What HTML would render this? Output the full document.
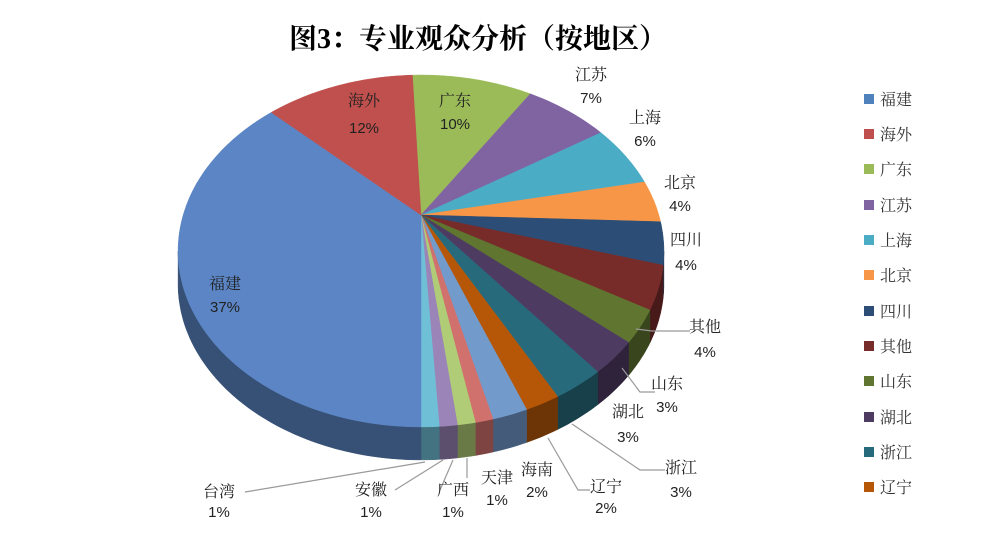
<!DOCTYPE html>
<html><head><meta charset="utf-8"><style>
body{margin:0;background:#fff;width:1000px;height:552px;overflow:hidden}
svg{display:block}
.c{font-family:"Liberation Serif","Noto Serif CJK SC",serif;font-size:16px;fill:#222}
.n{font-family:"Liberation Sans",sans-serif;font-size:15px;fill:#222}
.t{font-family:"Liberation Serif","Noto Serif CJK SC",serif;font-size:28px;font-weight:bold;fill:#000}
.lg{font-family:"Liberation Serif","Noto Serif CJK SC",serif;font-size:16px;fill:#333}
</style></head><body>
<svg id="s" width="1000" height="552" viewBox="0 0 1000 552">
<text class="t" x="478" y="48" text-anchor="middle">图3：专业观众分析（按地区）</text>
<g id="pie"></g>
<g fill="none" stroke="#999" stroke-width="1.2">
<polyline points="636,329 652,331 690,331"/>
<polyline points="622,368 640,392 655,392"/>
<polyline points="572,424 640,470 665,470"/>
<polyline points="548,438 578,490 590,490"/>
<polyline points="467,458 467,478"/>
<polyline points="453,460 440,490"/>
<polyline points="443,460 395,490"/>
<polyline points="425,462 245,492"/>
</g>
<g text-anchor="middle">
<text class="c" x="364" y="106">海外</text><text class="n" x="364" y="133">12%</text>
<text class="c" x="455" y="106">广东</text><text class="n" x="455" y="129">10%</text>
<text class="c" x="225" y="289">福建</text><text class="n" x="225" y="312">37%</text>
<text class="c" x="591" y="80">江苏</text><text class="n" x="591" y="103">7%</text>
<text class="c" x="645" y="123">上海</text><text class="n" x="645" y="146">6%</text>
<text class="c" x="680" y="188">北京</text><text class="n" x="680" y="211">4%</text>
<text class="c" x="686" y="245">四川</text><text class="n" x="686" y="270">4%</text>
<text class="c" x="705" y="332">其他</text><text class="n" x="705" y="357">4%</text>
<text class="c" x="667" y="389">山东</text><text class="n" x="667" y="412">3%</text>
<text class="c" x="628" y="417">湖北</text><text class="n" x="628" y="442">3%</text>
<text class="c" x="681" y="473">浙江</text><text class="n" x="681" y="497">3%</text>
<text class="c" x="606" y="492">辽宁</text><text class="n" x="606" y="513">2%</text>
<text class="c" x="537" y="475">海南</text><text class="n" x="537" y="497">2%</text>
<text class="c" x="497" y="483">天津</text><text class="n" x="497" y="505">1%</text>
<text class="c" x="453" y="495">广西</text><text class="n" x="453" y="517">1%</text>
<text class="c" x="371" y="495">安徽</text><text class="n" x="371" y="517">1%</text>
<text class="c" x="219" y="497">台湾</text><text class="n" x="219" y="517">1%</text>
</g>
<g>
<rect x="864" y="94" width="10" height="10" fill="#4F81BD"/><text class="lg" x="880" y="105">福建</text>
<rect x="864" y="129" width="10" height="10" fill="#C0504D"/><text class="lg" x="880" y="140">海外</text>
<rect x="864" y="164" width="10" height="10" fill="#9BBB59"/><text class="lg" x="880" y="175">广东</text>
<rect x="864" y="200" width="10" height="10" fill="#8064A2"/><text class="lg" x="880" y="211">江苏</text>
<rect x="864" y="235" width="10" height="10" fill="#4BACC6"/><text class="lg" x="880" y="246">上海</text>
<rect x="864" y="270" width="10" height="10" fill="#F79646"/><text class="lg" x="880" y="281">北京</text>
<rect x="864" y="306" width="10" height="10" fill="#2C4D75"/><text class="lg" x="880" y="317">四川</text>
<rect x="864" y="341" width="10" height="10" fill="#772C2A"/><text class="lg" x="880" y="352">其他</text>
<rect x="864" y="376" width="10" height="10" fill="#5F7530"/><text class="lg" x="880" y="387">山东</text>
<rect x="864" y="412" width="10" height="10" fill="#4D3B62"/><text class="lg" x="880" y="423">湖北</text>
<rect x="864" y="447" width="10" height="10" fill="#276A7C"/><text class="lg" x="880" y="458">浙江</text>
<rect x="864" y="482" width="10" height="10" fill="#B65708"/><text class="lg" x="880" y="493">辽宁</text>
</g>
</svg>
<script>
(function(){
var cx=421,cy=215,R=237.8,Q=168.6,k=0.2045,D=33;
function P(d){var a=d*Math.PI/180,u=Math.sin(a),v=Math.cos(a),w=1+k*v;return [cx+R*u/w,cy-Q*v/w];}
var sl=[["#9BBB59",10],["#8064A2",7],["#4BACC6",6],["#F79646",4],["#2C4D75",4],["#772C2A",4],["#5F7530",3],["#4D3B62",3],["#276A7C",3],["#B65708",2],["#729ACA",2],["#D0716E",1],["#B0CC76",1],["#9A84B8",1],["#6FC0D6",1],["#5B85C4",37],["#C0504D",12]];
function dark(h,f){var n=parseInt(h.slice(1),16),r=(n>>16)&255,g=(n>>8)&255,b=n&255;return "rgb("+Math.round(r*f)+","+Math.round(g*f)+","+Math.round(b*f)+")";}
var a=-2.5,segs=[];
for(var i=0;i<sl.length;i++){var f=i<15?182.5/52:177.5/49;var w=sl[i][1]*f;segs.push([a,a+w,sl[i][0]]);a+=w;}
var g=document.getElementById("pie"),side="",top="";
function arc(s,e,dy){var p="",n=Math.max(2,Math.ceil((e-s)/1));for(var j=0;j<=n;j++){var q=P(s+(e-s)*j/n);p+=(q[0]).toFixed(1)+","+(q[1]+dy).toFixed(1)+" ";}return p;}
var lo=101.8,hi=258.2;
segs.forEach(function(sg){var s=Math.max(sg[0],lo),e=Math.min(sg[1],hi);
 if(e>s){var p1=arc(s,e,0),p2=arc(s,e,D).trim().split(" ").reverse().join(" ");
  side+='<polygon points="'+p1+p2+'" fill="'+dark(sg[2],0.6)+'" stroke="'+dark(sg[2],0.6)+'" stroke-width="0.5"/>';}
 top+='<polygon points="'+cx+','+cy+' '+arc(sg[0],sg[1],0)+'" fill="'+sg[2]+'" stroke="'+sg[2]+'" stroke-width="0.5"/>';
});
g.innerHTML=side+top;
})();
</script>
</body></html>
